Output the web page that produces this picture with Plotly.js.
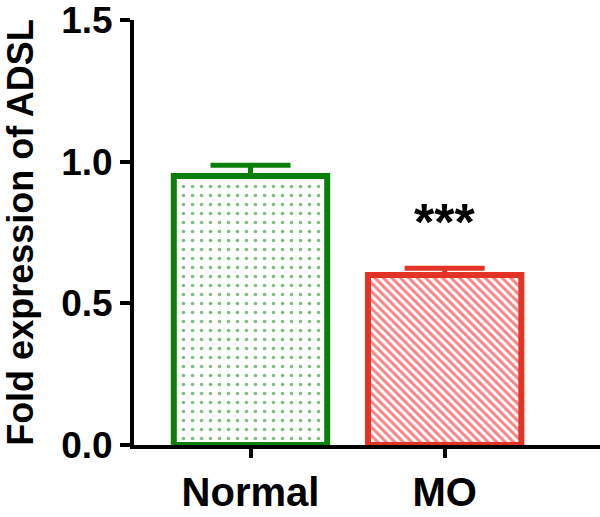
<!DOCTYPE html>
<html>
<head>
<meta charset="utf-8">
<script src="https://cdn.plot.ly/plotly-3.0.1.min.js"></script>
<style>html,body{margin:0;padding:0;background:#fff;}#chart{width:600px;height:517px;}</style>
</head>
<body>
<div id="chart"></div>
<script>
const categories = ["Normal", "MO"];
const values = [0.95, 0.60];
const errors = [0.038, 0.024];
const barColors = ["#0a800a", "#e33326"];
const patternColors = ["#007a00", "#f00a0a"];
const patternShapes = [".", "\\"];
const significance = ["", "***"];
const yTicks = [0, 0.5, 1.0, 1.5];

const FONT = "Liberation Sans, Arial, Helvetica, sans-serif";

const traces = categories.map((c, i) => ({
  type: "bar",
  x: [i],
  y: [values[i]],
  width: 0.79,
  marker: {
    color: "#ffffff",
    line: { color: barColors[i], width: 6 },
    pattern: {
      shape: patternShapes[i],
      fgcolor: patternColors[i],
      bgcolor: "#ffffff",
      fillmode: "overlay",
      size: i === 0 ? 9 : 6,
      solidity: i === 0 ? 0.13 : 0.5
    }
  },
  error_y: {
    type: "data",
    symmetric: false,
    array: [errors[i]],
    arrayminus: [0],
    color: barColors[i],
    thickness: 5,
    width: 40
  },
  showlegend: false,
  hoverinfo: "skip"
}));

const annotations = significance.map((s, i) => ({
  x: i, y: values[i] + errors[i], yref: "y", xref: "x",
  text: s, showarrow: false, yshift: 46,
  font: { family: FONT, size: 52, color: "#000", weight: "bold" }
})).filter(a => a.text);

const layout = {
  width: 600, height: 517,
  margin: { l: 134, r: 0, t: 20, b: 72 },
  paper_bgcolor: "#fff", plot_bgcolor: "#fff",
  bargap: 0,
  xaxis: {
    range: [-0.6, 1.8],
    tickvals: [0, 1],
    ticktext: categories,
    showline: true, linecolor: "#000", linewidth: 4,
    ticks: "outside", ticklen: 9, tickwidth: 4, tickcolor: "#000",
    showgrid: false, zeroline: false,
    tickfont: { family: FONT, size: 40, color: "#000", weight: "bold" }
  },
  yaxis: {
    range: [0, 1.5005],
    tickvals: yTicks,
    ticktext: yTicks.map(v => v.toFixed(1)),
    showline: true, linecolor: "#000", linewidth: 4,
    ticks: "outside", ticklen: 10, tickwidth: 4, tickcolor: "#000",
    showgrid: false, zeroline: false,
    tickfont: { family: FONT, size: 37, color: "#000", weight: "bold" },
    title: { text: "Fold expression of ADSL", standoff: 24,
      font: { family: FONT, size: 36, color: "#000", weight: "bold" } }
  },
  annotations: annotations
};

Plotly.newPlot("chart", traces, layout, { displayModeBar: false, staticPlot: true });
</script>
</body>
</html>
